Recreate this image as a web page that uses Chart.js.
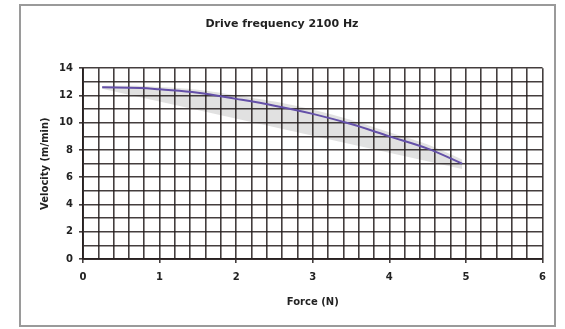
<!DOCTYPE html>
<html>
<head>
<meta charset="utf-8">
<script src="https://cdn.jsdelivr.net/npm/chart.js@4"></script>
<style>
  body { margin: 0; background: #fff; }
  #frame {
    position: absolute; left: 19px; top: 4px;
    width: 537px; height: 323px;
    border: 2px solid #9a9a9a; box-sizing: border-box;
  }
  canvas { display: block; }
</style>
</head>
<body>
<div id="frame"><canvas id="chart" width="533" height="319"></canvas></div>
<script>
// values
var force    = [0.25, 0.75, 1.0, 1.5, 2.0, 2.5, 3.0, 3.5, 4.0, 4.5, 4.95];
var velocity = [12.6, 12.55, 12.45, 12.2, 11.75, 11.25, 10.65, 9.9, 9.0, 8.1, 7.0];
// grey band around the curve
var bandHigh = [12.7, 12.7, 12.62, 12.42, 12.0, 11.55, 10.95, 10.2, 9.3, 8.4, 7.3];
var bandLow  = [12.5, 12.42, 12.3, 12.0, 11.5, 10.95, 10.3, 9.5, 8.6, 7.65, 6.6];

var xTicks = [0, 1, 2, 3, 4, 5, 6];
var yTicks = [0, 2, 4, 6, 8, 10, 12, 14];

function pts(ys) {
    return force.map(function (x, i) { return { x: x, y: ys[i] }; });
}
function isLabel(list, v) {
    return list.some(function (t) { return Math.abs(t - v) < 1e-6; });
}

var gridCol = 'rgba(35,28,28,0.85)';
var font = { family: 'DejaVu Sans', size: 10, weight: 'bold' };

var ctx = document.getElementById('chart').getContext('2d');
new Chart(ctx, {
    type: 'line',
    data: {
        datasets: [
            {
                data: pts(velocity),
                borderColor: '#6450a8',
                borderWidth: 2,
                pointRadius: 0,
                tension: 0.4,
                fill: false
            },
            {
                data: pts(bandLow),
                borderColor: 'transparent',
                pointRadius: 0,
                tension: 0.4,
                fill: false
            },
            {
                data: pts(bandHigh),
                borderColor: 'transparent',
                backgroundColor: 'rgba(200,200,200,0.55)',
                pointRadius: 0,
                tension: 0.4,
                fill: 1
            }
        ]
    },
    options: {
        responsive: false,
        animation: false,
        layout: { padding: { left: 0, right: 11, top: 0, bottom: 0 } },
        plugins: {
            legend: { display: false },
            tooltip: { enabled: false },
            filler: { drawTime: 'beforeDraw' },
            title: {
                display: true,
                text: 'Drive frequency 2100 Hz',
                color: '#222',
                font: { family: 'DejaVu Sans', size: 11, weight: 'bold' },
                padding: { top: 12, bottom: 37 }
            }
        },
        scales: {
            x: {
                type: 'linear',
                min: 0, max: 6,
                ticks: {
                    stepSize: 0.2,
                    autoSkip: false,
                    maxRotation: 0,
                    color: '#222',
                    font: font,
                    padding: 8,
                    callback: function (v) { return isLabel(xTicks, v) ? Math.round(v) : ''; }
                },
                grid: {
                    color: gridCol,
                    lineWidth: 1.6,
                    tickLength: 4,
                    tickColor: function (c) { return c.tick && isLabel(xTicks, c.tick.value) ? gridCol : 'transparent'; }
                },
                border: { color: gridCol, width: 2 },
                title: {
                    display: true,
                    text: 'Force (N)',
                    color: '#222',
                    font: font,
                    padding: { top: 0, bottom: 17 }
                },
                afterFit: function (s) { s.height = 66; }
            },
            y: {
                min: 0, max: 14,
                ticks: {
                    stepSize: 1,
                    autoSkip: false,
                    color: '#222',
                    font: font,
                    padding: 6,
                    callback: function (v) { return isLabel(yTicks, v) ? v : ''; }
                },
                grid: {
                    color: gridCol,
                    lineWidth: 1.6,
                    tickLength: 4,
                    tickColor: function (c) { return c.tick && isLabel(yTicks, c.tick.value) ? gridCol : 'transparent'; }
                },
                border: { color: gridCol, width: 2 },
                title: {
                    display: true,
                    text: 'Velocity (m/min)',
                    color: '#222',
                    font: font,
                    padding: { top: 18, bottom: 0 }
                },
                afterFit: function (s) { s.width = 62; }
            }
        }
    }
});
</script>
</body>
</html>
